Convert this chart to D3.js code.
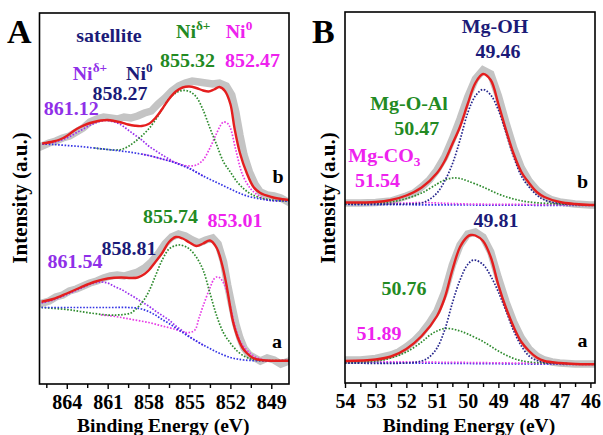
<!DOCTYPE html>
<html><head><meta charset="utf-8">
<script src="https://cdn.jsdelivr.net/npm/d3@7"></script>
<style>
body{margin:0;background:#fff}
svg{display:block}
text{font-family:"Liberation Serif","Times New Roman","DejaVu Serif",serif;font-weight:bold}
</style>
</head><body><svg id="c" width="603" height="435"></svg>
<script>
// ---------- tick values ----------
const niTicksMajor = [864, 861, 858, 855, 852, 849];
const niTicksMinor = [865.5, 862.5, 859.5, 856.5, 853.5, 850.5];
const mgTicksMajor = [54, 53, 52, 51, 50, 49, 48, 47, 46];
const mgTicksMinor = [53.5, 52.5, 51.5, 50.5, 49.5, 48.5, 47.5, 46.5];

// ---------- Ni 2p, sample b (upper) : [binding energy, intensity a.u.] ----------
const niB_data = [[865.8,238],[865.3,241],[864.8,243],[864.3,246],[863.8,248],[863.3,252],[862.8,256],[862.3,262],[861.8,265],[861.3,267],[860.8,266],[860.3,265],[859.8,267],[859.3,266],[858.8,268],[858.3,271],[857.8,273],[857.3,280],[856.8,286],[856.3,293],[855.8,298],[855.3,301],[854.8,303],[854.3,302],[853.8,301],[853.3,300],[852.8,301],[852.3,298],[851.9,289],[851.6,272],[851.3,249],[851,229],[850.6,212],[850.2,200],[849.8,192],[849.3,189],[848.8,188],[848.3,186],[847.9,183]];
const niB_fit = [[865.8,240.5],[865,242.5],[864.5,244.5],[864,248],[863.5,253],[863,257],[862.5,260],[862,262],[861.5,263.5],[861,264],[860.5,263],[860,261.5],[859.5,259.5],[859,258.3],[858.5,258],[858,260],[857.5,266],[857,275],[856.5,285],[856,292.5],[855.5,296.5],[855,297.5],[854.5,296],[854,293.5],[853.6,292.5],[853.2,294.5],[852.8,297],[852.4,293],[852,280],[851.7,256],[851.3,231],[850.8,211],[850.3,197],[849.8,191],[849,187],[848.5,185.5],[847.7,184]];
const niB_bg = [[865.8,240],[865,239.5],[864,238.5],[863,237.5],[862,236],[861,234.5],[860,233],[859,231],[858,228.5],[857,225],[856,221],[855,215.5],[854,208],[853,201.5],[852,195],[851,189],[850,185.5],[849,183.5],[848,183],[847.7,183]];
const niB_sat = [[865.8,240],[865,241.5],[864,246],[863,253.5],[862,260.5],[861.2,263.5],[860.5,262],[860,259],[859.5,254],[859,249],[858.5,244],[858,238],[857.5,233.5],[857,229],[856.5,225],[856,221],[855,215.5],[854,208]];
const niB_delta = [[862,236],[861,234.5],[860.5,234],[860,234.5],[859.5,237.5],[859,242.3],[858.5,248],[858,255],[857.5,264],[857,275],[856.5,285],[856,291],[855.5,293.5],[855,292.5],[854.5,287],[854,274],[853.5,256],[853,239],[852.5,222],[852,212],[851.5,202],[851,195],[850.5,190],[850,187],[849,184],[848,183],[847.7,183]];
const niB_zero = [[858.5,230],[858,228.5],[857,225],[856,221.5],[855.5,219],[855,218],[854.5,219],[854,224],[853.5,236],[853,251],[852.7,259],[852.5,262],[852.2,260.5],[852,256],[851.6,234],[851.1,209],[850.5,195],[850,189],[849.4,184.5],[849,183.5],[848,183],[847.7,183]];

// ---------- Ni 2p, sample a (lower) ----------
const niA_data = [[865.8,81],[865.3,83],[864.8,87],[864.3,89],[863.8,93],[863.3,95],[862.8,98],[862.3,101],[861.8,103],[861.3,106],[860.8,108],[860.3,109],[859.8,108],[859.3,110],[858.8,112],[858.3,116],[857.8,122],[857.3,130],[856.8,140],[856.3,147],[855.8,150],[855.3,148],[854.8,144],[854.3,141],[853.8,144],[853.3,146],[852.9,140],[852.5,122],[852.2,99],[851.9,79],[851.6,60],[851.3,46],[851,36],[850.6,29],[850.2,26],[849.8,23],[849.3,26],[848.8,24],[848.3,20],[847.9,22]];
const niA_fit = [[865.85,82.3],[865,85],[864,90.5],[863,96.5],[862,102],[861,105.5],[860,106.5],[859.3,106],[858.8,106.5],[858.3,110],[858,113.5],[857.5,122],[857,131],[856.5,142],[856,147],[855.5,145.5],[855,141.5],[854.5,138],[854,140.5],[853.5,143.5],[853,136],[852.6,119],[852.3,100],[852,76],[851.8,62],[851.5,48],[851.1,36],[850.8,31],[850.4,26.5],[850,24.5],[849,23.3],[848,23.3],[847.7,23.3]];
const niA_bg = [[865.85,76.5],[863,76.5],[861,76.5],[859.5,76.5],[859,76.2],[858.5,75],[858,72.5],[857.5,69],[857,64.5],[856.5,60.5],[856,56],[855.5,51.5],[855,47],[854.5,43],[854,39],[853.5,35.5],[853,32],[852.5,29],[852,26.5],[851.5,25],[851,24],[850,23.3],[848,23.3],[847.7,23.3]];
const niA_sat = [[865.85,81],[865,84],[864,89.5],[863,95.5],[862,101],[861.5,102],[861,101],[860.5,97.5],[860,94.5],[859.5,90.5],[859,86.5],[858.5,82],[858,78],[857.5,73],[857,68.5],[856.5,64],[856,58],[855.5,53],[855,47.5],[854.5,43],[854,39]];
const niA_delta = [[865.85,76.5],[864,74.5],[863,72.5],[862,70.5],[861,69],[860.3,69],[859.8,69.5],[859.3,71],[859,74],[858.5,81],[858,92],[857.5,108],[857,124],[856.5,135],[856,138.5],[855.7,139],[855.3,137.5],[855,135],[854.5,127],[854,114],[853.5,91],[853,68],[852.5,51],[852,41],[851.5,33],[851,28],[850.5,25],[850,23.5],[849,23.3],[847.7,23.3]];
const niA_zero = [[861.5,69],[861,68.5],[860,66.5],[859,64],[858,61.5],[857,58],[856,54.5],[855.5,52],[855,51.5],[854.6,54],[854.3,66],[854,78],[853.5,96],[853.2,105],[853,107],[852.8,106.5],[852.5,101],[852.2,90],[852,78],[851.6,55],[851.2,41],[850.8,34],[850.4,29],[850,26],[849.5,24],[849,23.3],[847.7,23.3]];

// ---------- Mg 2p, sample b (upper) ----------
const mgB_data = [[54,180],[53.5,180],[53,180.5],[52.5,182],[52,187],[51.75,190],[51.5,196],[51.25,203],[51,213],[50.75,226],[50.5,244],[50.25,264],[50,286],[49.75,304],[49.5,313],[49.25,309],[49,287],[48.75,260],[48.5,235],[48.25,215],[48,202],[47.75,193],[47.5,187],[47.25,183],[47,181],[46.5,179],[46,178],[45.85,178]];
const mgB_fit = [[54,180.5],[53,181],[52.5,183],[52,187.5],[51.5,195.5],[51,210],[50.75,222],[50.5,239],[50.25,256.3],[50,279],[49.75,300],[49.5,309],[49.25,303],[49,279],[48.75,253],[48.5,229],[48.25,211],[48,200],[47.75,191],[47.5,186],[47,181],[46.5,179],[46,178],[45.85,178]];
const mgB_OH = [[54,179],[52,179],[51.5,180],[51.25,183.5],[51,190],[50.75,202],[50.5,219],[50.25,243],[50,270],[49.75,287],[49.5,293.5],[49.25,288],[49,273],[48.75,250],[48.5,226],[48.25,207],[48,196],[47.75,188],[47.5,183],[47,179.5],[46.5,178.5],[46,178],[45.85,178]];
const mgB_OAl = [[54,179],[53,179.5],[52.5,181],[52,184.5],[51.5,190],[51,199],[50.75,203],[50.5,205],[50.25,204.5],[50,202],[49.5,196],[49,189],[48.5,184],[48,181],[47,179],[46,178],[45.85,178]];
const mgB_CO3 = [[54,179.5],[52,180],[51.5,180.5],[51,180],[50,179],[48,178.5],[46,178],[45.85,178]];
const mgB_bg = [[54,178.5],[50,178],[46,177.5],[45.85,177.5]];

// ---------- Mg 2p, sample a (lower) ----------
const mgA_data = [[54,23],[53.5,23],[53,24.5],[52.5,28],[52.25,31],[52,36],[51.75,42],[51.5,50],[51.25,60],[51,72],[50.75,91],[50.5,118],[50.25,138],[50,149],[49.75,151],[49.5,146],[49.25,131],[49,105],[48.75,81],[48.5,61],[48.25,45],[48,34],[47.75,27],[47.5,23],[47.25,21],[47,20],[46.5,19],[46,19],[45.85,19]];
const mgA_fit = [[54,22],[53,23.5],[52.5,26.5],[52,34],[51.5,47],[51,67],[50.75,85],[50.5,113],[50.25,136],[50,146.5],[49.9,148],[49.75,147.5],[49.5,142],[49.25,126],[49,98],[48.75,75],[48.5,56],[48.25,41],[48,32],[47.75,25.5],[47.5,22],[47,20],[46.5,19],[46,18.7],[45.85,18.7]];
const mgA_OH = [[54,20],[52,20],[51.5,22],[51.25,26],[51,35],[50.75,53],[50.5,80],[50.25,103],[50,118.5],[49.8,123],[49.5,118.5],[49.25,107],[49,91],[48.75,72],[48.5,52],[48.25,37],[48,27],[47.75,22.5],[47.5,20.5],[47,19.5],[46,19],[45.85,19]];
const mgA_OAl = [[54,20.5],[53,22],[52.5,25],[52,31],[51.5,41],[51.25,47.5],[51,52],[50.75,54.5],[50.5,54],[50.25,52],[50,49],[49.5,41.5],[49,32],[48.5,24.5],[48,21],[47,19.5],[46,19],[45.85,19]];
const mgA_CO3 = [[54,21.5],[50,20.5],[46,19],[45.85,19]];
const mgA_bg = [[54,20.5],[50,19.5],[46,18.5],[45.85,18.5]];

// ---------- annotation texts ----------
const niB_peaks = ["861.12", "858.27", "855.32", "852.47"];
const niA_peaks = ["861.54", "858.81", "855.74", "853.01"];
const mgB_peaks = ["51.54", "50.47", "49.46"];
const mgA_peaks = ["51.89", "50.76", "49.81"];
const mgSpecies = ["Mg-CO", "Mg-O-Al", "Mg-OH"];

// ---------- colours ----------
const C = {
  data: "#c4c4c4", fit: "#e41e1e", bg: "#3434e4",
  purple: "#9a30ee", green: "#2e8b2e", magenta: "#e63ce6", navy: "#25258c",
  tPurple: "#8f2fe8", tGreen: "#238a23", tMagenta: "#ee22ee", tNavy: "#1b1b78"
};
const SERIF = '"Liberation Serif","Times New Roman","DejaVu Serif",serif';

const svg = d3.select("#c");

function panel(cfg) {
  const x = d3.scaleLinear().domain(cfg.dom).range([cfg.left, cfg.right]);
  const y = d3.scaleLinear().domain([0, 371]).range([cfg.bottom, cfg.top]);
  const g = svg.append("g");
  g.append("clipPath").attr("id", cfg.id).append("rect")
    .attr("x", cfg.left).attr("y", cfg.top)
    .attr("width", cfg.right - cfg.left).attr("height", cfg.bottom - cfg.top);
  const plot = g.append("g").attr("clip-path", `url(#${cfg.id})`);
  const smooth = d3.line().x(d => x(d[0])).y(d => y(d[1])).curve(d3.curveCatmullRom.alpha(0.5));
  const raw = d3.line().x(d => x(d[0])).y(d => y(d[1])).curve(d3.curveLinear);
  cfg.series.forEach(s => {
    const p = plot.append("path").datum(s.data).attr("fill", "none");
    if (s.kind === "data") {
      p.attr("d", raw).attr("stroke", C.data).attr("stroke-width", 7.5)
        .attr("stroke-linejoin", "miter").attr("stroke-linecap", "square");
    } else if (s.kind === "fit") {
      p.attr("d", smooth).attr("stroke", C.fit).attr("stroke-width", 2.4);
    } else {
      p.attr("d", smooth).attr("stroke", s.color).attr("stroke-width", 1.7)
        .attr("stroke-dasharray", "1.6 1.6");
    }
  });
  g.append("rect").attr("x", cfg.left).attr("y", cfg.top)
    .attr("width", cfg.right - cfg.left).attr("height", cfg.bottom - cfg.top)
    .attr("fill", "none").attr("stroke", "#000").attr("stroke-width", 1.6);
  const axMaj = g.append("g").attr("transform", `translate(0,${cfg.bottom})`)
    .call(d3.axisBottom(x).tickValues(cfg.major).tickSize(5).tickFormat(d3.format("d")));
  axMaj.attr("font-family", SERIF);
  axMaj.select(".domain").remove();
  axMaj.selectAll("line").attr("stroke", "#000").attr("stroke-width", 1.4);
  axMaj.selectAll("text").attr("y", cfg.tickBase).attr("dy", 0)
    .style("font-size", "20px").style("font-family", SERIF)
    .style("font-weight", "bold").attr("fill", "#000");
  const axMin = g.append("g").attr("transform", `translate(0,${cfg.bottom})`)
    .call(d3.axisBottom(x).tickValues(cfg.minor).tickSize(4).tickFormat(""));
  axMin.select(".domain").remove();
  axMin.selectAll("line").attr("stroke", "#000").attr("stroke-width", 1.4);
  // axis titles
  g.append("text").attr("x", (cfg.left + cfg.right) / 2 - 1).attr("y", 432)
    .attr("text-anchor", "middle").style("font-size", "19.5px").text("Binding Energy (eV)");
  g.append("text").attr("transform", `translate(${cfg.yTitleX},198) rotate(-90)`)
    .attr("text-anchor", "middle").style("font-size", "21px").text("Intensity (a.u.)");
  g.append("text").attr("x", cfg.letterX).attr("y", 43).style("font-size", "34px").text(cfg.letter);
  return g;
}

function label(x, y, parts, color, anchor = "middle", size = 18) {
  const t = svg.append("text")
    .attr("transform", `translate(${x},${y}) scale(1.11,1)`)
    .attr("text-anchor", anchor).attr("fill", color).style("font-size", size + "px");
  parts.forEach(p => {
    const ts = t.append("tspan").text(p.t);
    if (p.sup) ts.style("font-size", "12px").attr("dy", -8);
    if (p.sub) ts.style("font-size", "12px").attr("dy", 4);
  });
}

panel({
  id: "clipA", left: 39.5, right: 289, top: 13, bottom: 384, dom: [866, 847.7],
  major: niTicksMajor, minor: niTicksMinor, tickBase: 25, yTitleX: 27, letter: "A", letterX: 7,
  series: [
    {kind: "data", data: niB_data}, {kind: "data", data: niA_data},
    {kind: "dot", data: niB_sat, color: C.purple}, {kind: "dot", data: niB_zero, color: C.magenta},
    {kind: "dot", data: niB_delta, color: C.green}, {kind: "dot", data: niB_bg, color: C.bg},
    {kind: "dot", data: niA_sat, color: C.purple}, {kind: "dot", data: niA_zero, color: C.magenta},
    {kind: "dot", data: niA_delta, color: C.green}, {kind: "dot", data: niA_bg, color: C.bg},
    {kind: "fit", data: niB_fit}, {kind: "fit", data: niA_fit}
  ]
});

panel({
  id: "clipB", left: 345, right: 595, top: 12, bottom: 383, dom: [54, 45.85],
  major: mgTicksMajor, minor: mgTicksMinor, tickBase: 25, yTitleX: 335, letter: "B", letterX: 312,
  series: [
    {kind: "data", data: mgB_data}, {kind: "data", data: mgA_data},
    {kind: "dot", data: mgB_bg, color: C.bg}, {kind: "dot", data: mgB_CO3, color: C.magenta},
    {kind: "dot", data: mgB_OAl, color: C.green}, {kind: "dot", data: mgB_OH, color: C.navy},
    {kind: "dot", data: mgA_bg, color: C.bg}, {kind: "dot", data: mgA_CO3, color: C.magenta},
    {kind: "dot", data: mgA_OAl, color: C.green}, {kind: "dot", data: mgA_OH, color: C.navy},
    {kind: "fit", data: mgB_fit}, {kind: "fit", data: mgA_fit}
  ]
});

// Panel A annotations
label(109, 41.7, [{t: "satellite"}], C.tNavy);
label(176, 38.3, [{t: "Ni"}, {t: "δ+", sup: true}], C.tGreen, "start");
label(225.7, 38.3, [{t: "Ni"}, {t: "0", sup: true}], C.tMagenta, "start");
label(187.5, 66.7, [{t: niB_peaks[2]}], C.tGreen);
label(252.5, 66.7, [{t: niB_peaks[3]}], C.tMagenta);
label(72.7, 80, [{t: "Ni"}, {t: "δ+", sup: true}], C.tPurple, "start");
label(126, 80, [{t: "Ni"}, {t: "0", sup: true}], C.tNavy, "start");
label(120, 100, [{t: niB_peaks[1]}], C.tNavy);
label(71.3, 115, [{t: niB_peaks[0]}], C.tPurple);
label(278, 183, [{t: "b"}], "#000");
label(170.5, 223.3, [{t: niA_peaks[2]}], C.tGreen);
label(235, 226.7, [{t: niA_peaks[3]}], C.tMagenta);
label(129, 255, [{t: niA_peaks[1]}], C.tNavy);
label(75, 268.3, [{t: niA_peaks[0]}], C.tPurple);
label(277, 348.3, [{t: "a"}], "#000");

// Panel B annotations
label(495, 33.3, [{t: mgSpecies[2]}], C.tNavy);
label(498, 58.3, [{t: mgB_peaks[2]}], C.tNavy);
label(409, 110, [{t: mgSpecies[1]}], C.tGreen);
label(416.7, 135, [{t: mgB_peaks[1]}], C.tGreen);
label(348.3, 161.7, [{t: mgSpecies[0]}, {t: "3", sub: true}], C.tMagenta, "start");
label(377.5, 186.7, [{t: mgB_peaks[0]}], C.tMagenta);
label(582.5, 188.3, [{t: "b"}], "#000");
label(496, 226.7, [{t: mgA_peaks[2]}], C.tNavy);
label(404, 295, [{t: mgA_peaks[1]}], C.tGreen);
label(379, 340, [{t: mgA_peaks[0]}], C.tMagenta);
label(582.5, 346.7, [{t: "a"}], "#000");
</script>
</body></html>
